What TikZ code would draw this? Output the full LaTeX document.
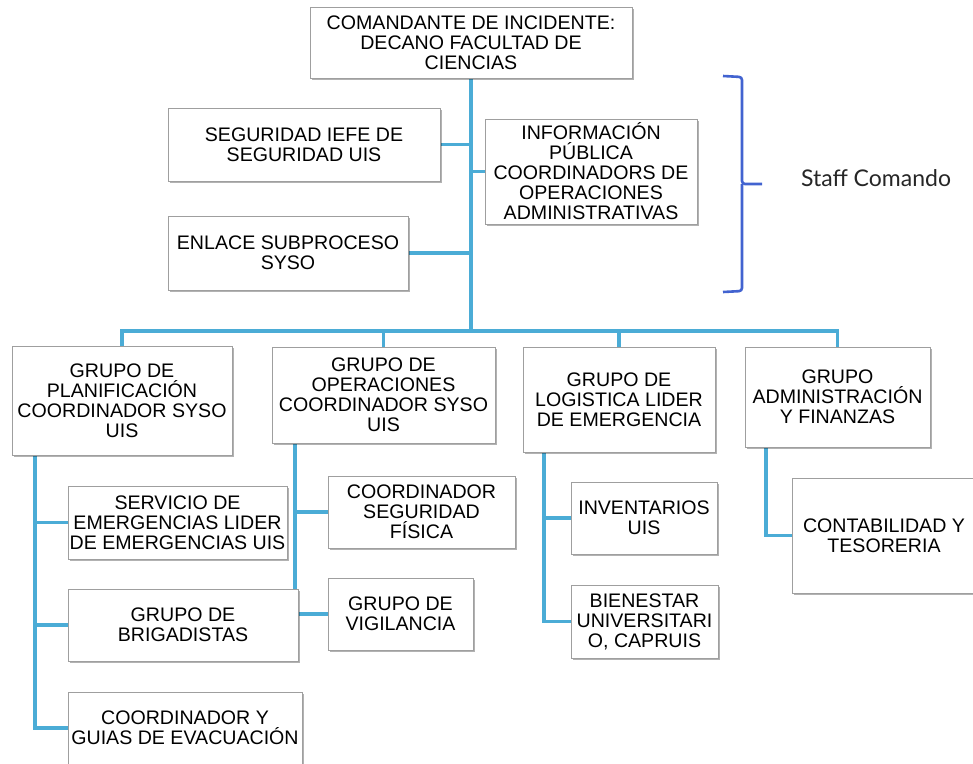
\documentclass[tikz,border=0pt]{standalone}
\usepackage{fontspec}
\setmainfont{Liberation Sans}
\newfontfamily\stafffont{Lato}
\usetikzlibrary{shadows}
\definecolor{azul}{HTML}{4BACD6}
\definecolor{azulllave}{HTML}{4263D0}
\pgfdeclarelayer{background}
\pgfsetlayers{background,main}
\tikzset{
    caja/.style={draw=gray!75, line width=0.8pt, fill=white, align=center, inner sep=0pt,
        font=\fontsize{19.6}{20}\selectfont,
        drop shadow={shadow xshift=1.5pt, shadow yshift=-1.5pt, opacity=0.3, fill=black}},
    linea/.style={draw=azul, line width=3.6pt},
    llave/.style={draw=azulllave, line width=2.6pt, rounded corners=3pt}
}
\begin{document}
\begin{tikzpicture}[x=1pt, y=-1pt]
                \useasboundingbox (0,0) rectangle (973,763);

                \node [caja, minimum width=322, minimum height=71] (comandante) at (471,42.5) {COMANDANTE DE INCIDENTE:\\DECANO FACULTAD DE\\CIENCIAS};
                \node [caja, minimum width=272, minimum height=73] (seguridad) at (304,144.5) {SEGURIDAD IEFE DE\\SEGURIDAD UIS};
                \node [caja, minimum width=212, minimum height=105] (informacion) at (591,171.5) {INFORMACIÓN\\PÚBLICA\\COORDINADORS DE\\OPERACIONES\\ADMINISTRATIVAS};
                \node [caja, minimum width=240, minimum height=74] (enlace) at (288,253) {ENLACE SUBPROCESO\\SYSO};

                \node [caja, minimum width=220, minimum height=109] (planificacion) at (122,400.5) {GRUPO DE\\PLANIFICACIÓN\\COORDINADOR SYSO\\UIS};
                \node [caja, minimum width=223, minimum height=96] (operaciones) at (383.5,395) {GRUPO DE\\OPERACIONES\\COORDINADOR SYSO\\UIS};
                \node [caja, minimum width=192, minimum height=105] (logistica) at (619,399.5) {GRUPO DE\\LOGISTICA LIDER\\DE EMERGENCIA};
                \node [caja, minimum width=185, minimum height=100] (administracion) at (837.5,397) {GRUPO\\ADMINISTRACIÓN\\Y FINANZAS};

                \node [caja, minimum width=219, minimum height=73] (servicio) at (177.5,522.5) {SERVICIO DE\\EMERGENCIAS LIDER\\DE EMERGENCIAS UIS};
                \node [caja, minimum width=230, minimum height=72] (brigadistas) at (183,625) {GRUPO DE\\BRIGADISTAS};
                \node [caja, minimum width=234, minimum height=72] (guias) at (185,728) {COORDINADOR Y\\GUIAS DE EVACUACIÓN};

                \node [caja, minimum width=187, minimum height=72] (fisica) at (421.5,512) {COORDINADOR\\SEGURIDAD\\FÍSICA};
                \node [caja, minimum width=145, minimum height=72] (vigilancia) at (400.5,614) {GRUPO DE\\VIGILANCIA};

                \node [caja, minimum width=146, minimum height=72] (inventarios) at (644,518) {INVENTARIOS\\UIS};
                \node [caja, minimum width=147, minimum height=73] (bienestar) at (644.5,621.5) {BIENESTAR\\UNIVERSITARI\\O, CAPRUIS};

                \node [caja, minimum width=184, minimum height=115] (contabilidad) at (884,535.5) {CONTABILIDAD Y\\TESORERIA};

                \node [font=\stafffont\fontsize{23}{26}\selectfont, text=black!85] (staff) at (876,178) {Staff Comando};

                \coordinate (bus) at (471,331);
                \coordinate (eje1) at (35,455);
                \coordinate (eje2) at (295,443);
                \coordinate (eje3) at (544,452);
                \coordinate (eje4) at (766,447);

                \begin{pgfonlayer}{background}
                    \draw [linea] (comandante) -- (bus);
                    \draw [linea] (seguridad.east) -- (seguridad.east -| bus);
                    \draw [linea] (informacion.west) -- (informacion.west -| bus);
                    \draw [linea] (enlace.east) -- (enlace.east -| bus);

                    \draw [linea] (planificacion.north) |- (bus) -| (administracion.north);
                    \draw [linea] (operaciones.north) -- (operaciones.north |- bus);
                    \draw [linea] (logistica.north) -- (logistica.north |- bus);

                    \draw [linea] (eje1) |- (guias.west);
                    \draw [linea] (eje1 |- servicio.west) -- (servicio.west);
                    \draw [linea] (eje1 |- brigadistas.west) -- (brigadistas.west);

                    \draw [linea] (eje2) |- (vigilancia.west);
                    \draw [linea] (eje2 |- fisica.west) -- (fisica.west);

                    \draw [linea] (eje3) |- (bienestar.west);
                    \draw [linea] (eje3 |- inventarios.west) -- (inventarios.west);

                    \draw [linea] (eje4) |- (contabilidad.west);
                \end{pgfonlayer}

                \draw [llave] (723,76) -- (742,77) -- (742,184) -- (762,184);
                \draw [llave] (742,184) -- (742,291) -- (723,292);
            \end{tikzpicture}
\end{document}
